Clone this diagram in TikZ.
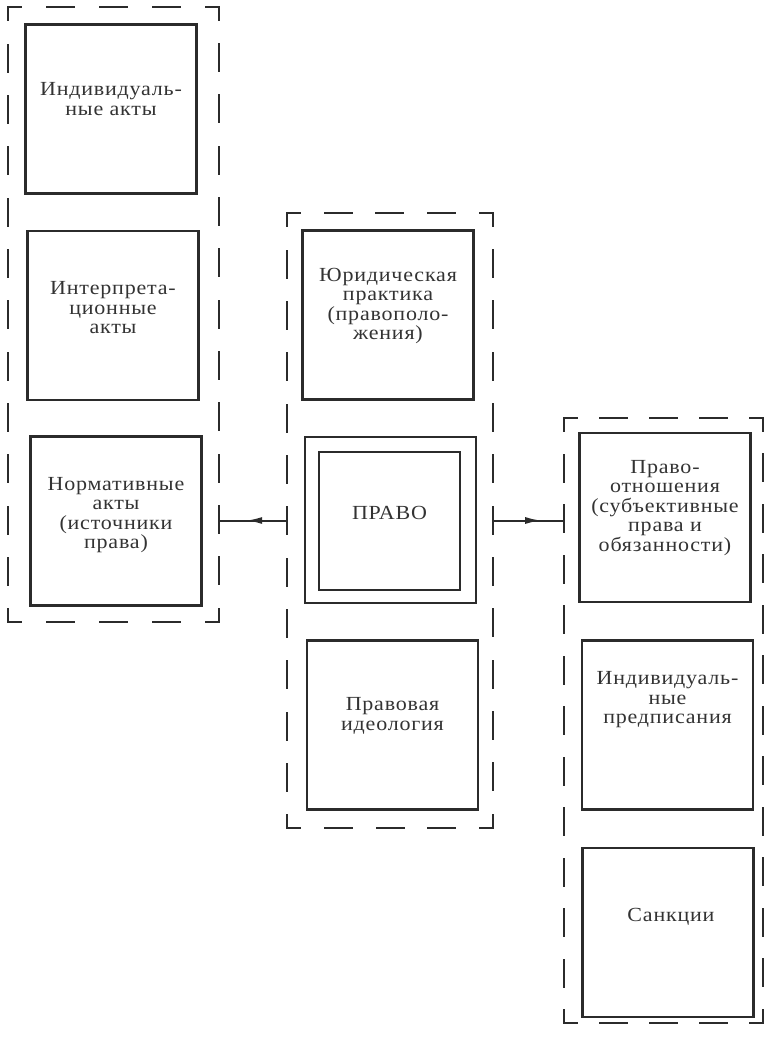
\documentclass[tikz,border=0pt]{standalone}
\usepackage{fontspec}
\setmainfont{Liberation Serif}[LetterSpace=4,FakeStretch=1.1]
\usetikzlibrary{arrows.meta,decorations.markings}
\definecolor{ink}{gray}{0.17}
\definecolor{txt}{gray}{0.2}
% one dashed side: corner arms of 13pt, 27pt dashes, gaps stretched to fit
\newcommand\dashrun[3]{%
  \pgfmathsetmacro\dashcount{max(1,round((#3-26-24)/51))}%
  \pgfmathsetmacro\dashgap{(#3-26-\dashcount*27)/(\dashcount+1)}%
  \draw[frameline, dash pattern=on 27pt off \dashgap pt, dash phase=14pt] (#1) -- (#2);}
% dashed border round a group node of width #2 and height #3
\newcommand\dashframe[3]{%
  \dashrun{#1.north west}{#1.north east}{#2}%
  \dashrun{#1.north east}{#1.south east}{#3}%
  \dashrun{#1.south east}{#1.south west}{#2}%
  \dashrun{#1.south west}{#1.north west}{#3}}
\begin{document}
\begin{tikzpicture}[x=1pt,y=-1pt,
  frame/.style={rectangle, inner sep=0pt},
  frameline/.style={draw=ink, line width=2pt, line cap=rect},
  box/.style={draw=ink, line width=2.2pt, rectangle, inner sep=0pt,
    minimum width=171pt, minimum height=169pt},
  lbl/.style={align=center, font=\fontsize{20}{19.5}\selectfont, text=txt, inner sep=0pt},
  link/.style={draw=ink, line width=2pt, postaction={decorate},
    decoration={markings, mark=at position #1 with {\arrow{Latex[length=16pt,width=7pt]}}}}]
\useasboundingbox (0,0) rectangle (766,1037);

% dashed groups
\node[frame, minimum width=211pt, minimum height=615pt] (lframe) at (113.5,314.5) {};
\node[frame, minimum width=206pt, minimum height=615pt] (mframe) at (390,520.5) {};
\node[frame, minimum width=199pt, minimum height=605pt] (rframe) at (663.5,720.5) {};
\dashframe{lframe}{211}{615}
\dashframe{mframe}{206}{615}
\dashframe{rframe}{199}{605}

% left group: acts
\node[box] (b1) at (111,109) {};
\node[box] (b2) at (113,315.5) {};
\node[box] (b3) at (116,521) {};
\node[lbl] (t1) at (111,99) {Индивидуаль-\\ные акты};
\node[lbl] (t2) at (113,308) {Интерпрета-\\ционные\\акты};
\node[lbl] (t3) at (116,515) {Нормативные\\акты\\(источники\\права)};

% middle group: law
\node[box] (m1) at (388,315) {};
\node[box, minimum width=171pt, minimum height=166pt] (m2) at (390.5,520) {};
\node[box, minimum width=141pt, minimum height=138pt] (m2in) at (389.5,521) {};
\node[box] (m3) at (392.5,725) {};
\node[lbl] (u1) at (388,306) {Юридическая\\практика\\(правополо-\\жения)};
\node[lbl] (u2) at (389.5,512.5) {ПРАВО};
\node[lbl] (u3) at (392.5,716) {Правовая\\идеология};

% right group: relations
\node[box] (r1) at (665,517.5) {};
\node[box] (r2) at (667.5,725) {};
\node[box] (r3) at (668,932.5) {};
\node[lbl] (v1) at (665,508) {Право-\\отношения\\(субъективные\\права и\\обязанности)};
\node[lbl] (v2) at (667.5,700) {Индивидуаль-\\ные\\предписания};
\node[lbl] (v3) at (671,917) {Санкции};

% connectors
\draw[link=0.6] (mframe.west) -- (lframe.east |- mframe.west);
\draw[link=0.68] (mframe.east) -- (rframe.west |- mframe.east);
\end{tikzpicture}
\end{document}
